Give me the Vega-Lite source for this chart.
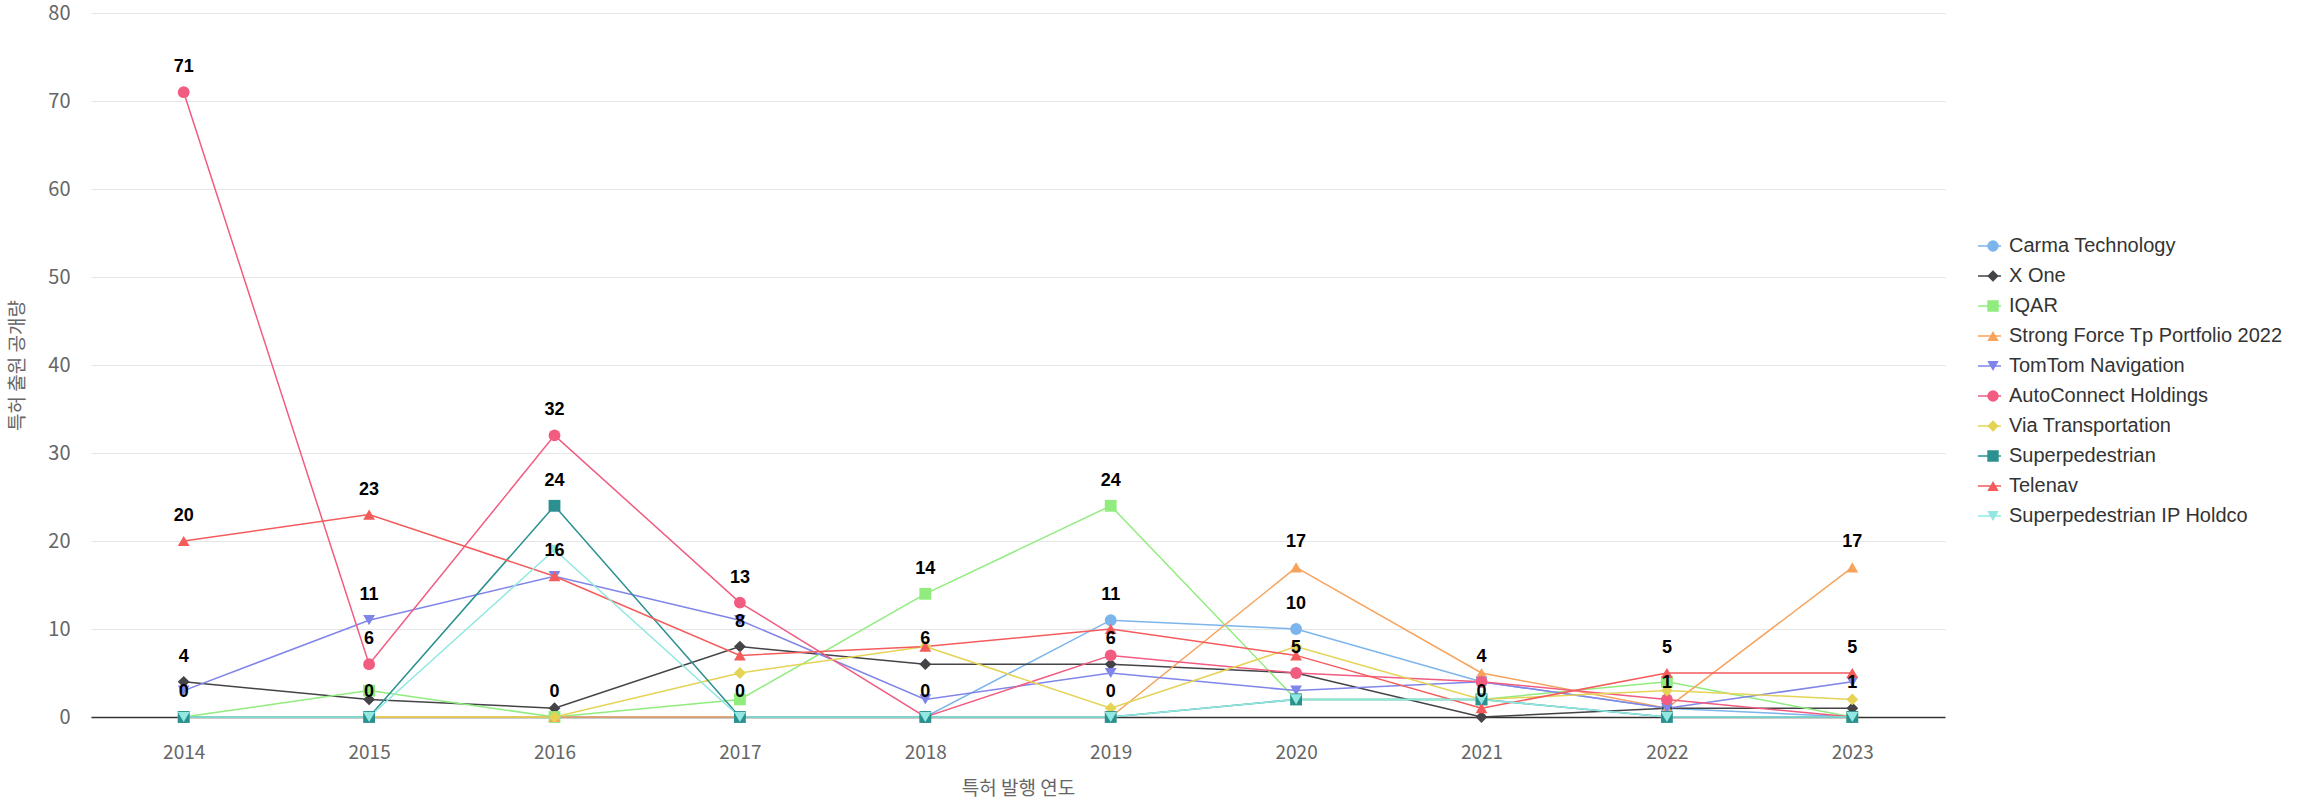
{
  "$schema": "https://vega.github.io/schema/vega-lite/v6.json",
  "autosize": {"type": "none"},
  "padding": {"left": 91, "top": 13, "right": 353, "bottom": 88},
  "width": 1854,
  "height": 704,
  "background": "#ffffff",
  "config": {"view": {"stroke": null}},
  "datasets": {
    "series": [
      {"company": "Carma Technology", "year": "2014", "value": 0},
      {"company": "Carma Technology", "year": "2015", "value": 0},
      {"company": "Carma Technology", "year": "2016", "value": 0},
      {"company": "Carma Technology", "year": "2017", "value": 0},
      {"company": "Carma Technology", "year": "2018", "value": 0},
      {"company": "Carma Technology", "year": "2019", "value": 11},
      {"company": "Carma Technology", "year": "2020", "value": 10},
      {"company": "Carma Technology", "year": "2021", "value": 4},
      {"company": "Carma Technology", "year": "2022", "value": 1},
      {"company": "Carma Technology", "year": "2023", "value": 0},
      {"company": "X One", "year": "2014", "value": 4},
      {"company": "X One", "year": "2015", "value": 2},
      {"company": "X One", "year": "2016", "value": 1},
      {"company": "X One", "year": "2017", "value": 8},
      {"company": "X One", "year": "2018", "value": 6},
      {"company": "X One", "year": "2019", "value": 6},
      {"company": "X One", "year": "2020", "value": 5},
      {"company": "X One", "year": "2021", "value": 0},
      {"company": "X One", "year": "2022", "value": 1},
      {"company": "X One", "year": "2023", "value": 1},
      {"company": "IQAR", "year": "2014", "value": 0},
      {"company": "IQAR", "year": "2015", "value": 3},
      {"company": "IQAR", "year": "2016", "value": 0},
      {"company": "IQAR", "year": "2017", "value": 2},
      {"company": "IQAR", "year": "2018", "value": 14},
      {"company": "IQAR", "year": "2019", "value": 24},
      {"company": "IQAR", "year": "2020", "value": 2},
      {"company": "IQAR", "year": "2021", "value": 2},
      {"company": "IQAR", "year": "2022", "value": 4},
      {"company": "IQAR", "year": "2023", "value": 0},
      {"company": "Strong Force Tp Portfolio 2022", "year": "2014", "value": 0},
      {"company": "Strong Force Tp Portfolio 2022", "year": "2015", "value": 0},
      {"company": "Strong Force Tp Portfolio 2022", "year": "2016", "value": 0},
      {"company": "Strong Force Tp Portfolio 2022", "year": "2017", "value": 0},
      {"company": "Strong Force Tp Portfolio 2022", "year": "2018", "value": 0},
      {"company": "Strong Force Tp Portfolio 2022", "year": "2019", "value": 0},
      {"company": "Strong Force Tp Portfolio 2022", "year": "2020", "value": 17},
      {"company": "Strong Force Tp Portfolio 2022", "year": "2021", "value": 5},
      {"company": "Strong Force Tp Portfolio 2022", "year": "2022", "value": 1},
      {"company": "Strong Force Tp Portfolio 2022", "year": "2023", "value": 17},
      {"company": "TomTom Navigation", "year": "2014", "value": 3},
      {"company": "TomTom Navigation", "year": "2015", "value": 11},
      {"company": "TomTom Navigation", "year": "2016", "value": 16},
      {"company": "TomTom Navigation", "year": "2017", "value": 11},
      {"company": "TomTom Navigation", "year": "2018", "value": 2},
      {"company": "TomTom Navigation", "year": "2019", "value": 5},
      {"company": "TomTom Navigation", "year": "2020", "value": 3},
      {"company": "TomTom Navigation", "year": "2021", "value": 4},
      {"company": "TomTom Navigation", "year": "2022", "value": 1},
      {"company": "TomTom Navigation", "year": "2023", "value": 4},
      {"company": "AutoConnect Holdings", "year": "2014", "value": 71},
      {"company": "AutoConnect Holdings", "year": "2015", "value": 6},
      {"company": "AutoConnect Holdings", "year": "2016", "value": 32},
      {"company": "AutoConnect Holdings", "year": "2017", "value": 13},
      {"company": "AutoConnect Holdings", "year": "2018", "value": 0},
      {"company": "AutoConnect Holdings", "year": "2019", "value": 7},
      {"company": "AutoConnect Holdings", "year": "2020", "value": 5},
      {"company": "AutoConnect Holdings", "year": "2021", "value": 4},
      {"company": "AutoConnect Holdings", "year": "2022", "value": 2},
      {"company": "AutoConnect Holdings", "year": "2023", "value": 0},
      {"company": "Via Transportation", "year": "2014", "value": 0},
      {"company": "Via Transportation", "year": "2015", "value": 0},
      {"company": "Via Transportation", "year": "2016", "value": 0},
      {"company": "Via Transportation", "year": "2017", "value": 5},
      {"company": "Via Transportation", "year": "2018", "value": 8},
      {"company": "Via Transportation", "year": "2019", "value": 1},
      {"company": "Via Transportation", "year": "2020", "value": 8},
      {"company": "Via Transportation", "year": "2021", "value": 2},
      {"company": "Via Transportation", "year": "2022", "value": 3},
      {"company": "Via Transportation", "year": "2023", "value": 2},
      {"company": "Superpedestrian", "year": "2014", "value": 0},
      {"company": "Superpedestrian", "year": "2015", "value": 0},
      {"company": "Superpedestrian", "year": "2016", "value": 24},
      {"company": "Superpedestrian", "year": "2017", "value": 0},
      {"company": "Superpedestrian", "year": "2018", "value": 0},
      {"company": "Superpedestrian", "year": "2019", "value": 0},
      {"company": "Superpedestrian", "year": "2020", "value": 2},
      {"company": "Superpedestrian", "year": "2021", "value": 2},
      {"company": "Superpedestrian", "year": "2022", "value": 0},
      {"company": "Superpedestrian", "year": "2023", "value": 0},
      {"company": "Telenav", "year": "2014", "value": 20},
      {"company": "Telenav", "year": "2015", "value": 23},
      {"company": "Telenav", "year": "2016", "value": 16},
      {"company": "Telenav", "year": "2017", "value": 7},
      {"company": "Telenav", "year": "2018", "value": 8},
      {"company": "Telenav", "year": "2019", "value": 10},
      {"company": "Telenav", "year": "2020", "value": 7},
      {"company": "Telenav", "year": "2021", "value": 1},
      {"company": "Telenav", "year": "2022", "value": 5},
      {"company": "Telenav", "year": "2023", "value": 5},
      {"company": "Superpedestrian IP Holdco", "year": "2014", "value": 0},
      {"company": "Superpedestrian IP Holdco", "year": "2015", "value": 0},
      {"company": "Superpedestrian IP Holdco", "year": "2016", "value": 19},
      {"company": "Superpedestrian IP Holdco", "year": "2017", "value": 0},
      {"company": "Superpedestrian IP Holdco", "year": "2018", "value": 0},
      {"company": "Superpedestrian IP Holdco", "year": "2019", "value": 0},
      {"company": "Superpedestrian IP Holdco", "year": "2020", "value": 2},
      {"company": "Superpedestrian IP Holdco", "year": "2021", "value": 2},
      {"company": "Superpedestrian IP Holdco", "year": "2022", "value": 0},
      {"company": "Superpedestrian IP Holdco", "year": "2023", "value": 0}
    ],
    "labels": [
      {"year": "2014", "value": 71}, {"year": "2014", "value": 20}, {"year": "2014", "value": 4}, {"year": "2014", "value": 0},
      {"year": "2015", "value": 23}, {"year": "2015", "value": 11}, {"year": "2015", "value": 6}, {"year": "2015", "value": 0},
      {"year": "2016", "value": 32}, {"year": "2016", "value": 24}, {"year": "2016", "value": 16}, {"year": "2016", "value": 0},
      {"year": "2017", "value": 13}, {"year": "2017", "value": 8}, {"year": "2017", "value": 0},
      {"year": "2018", "value": 14}, {"year": "2018", "value": 6}, {"year": "2018", "value": 0},
      {"year": "2019", "value": 24}, {"year": "2019", "value": 11}, {"year": "2019", "value": 6}, {"year": "2019", "value": 0},
      {"year": "2020", "value": 17}, {"year": "2020", "value": 10}, {"year": "2020", "value": 5},
      {"year": "2021", "value": 4}, {"year": "2021", "value": 0},
      {"year": "2022", "value": 5}, {"year": "2022", "value": 1},
      {"year": "2023", "value": 17}, {"year": "2023", "value": 5}, {"year": "2023", "value": 1}
    ]
  },
  "encoding": {
    "x": {
      "field": "year", "type": "ordinal",
      "scale": {"type": "point", "padding": 0.5},
      "axis": {
        "title": "특허 발행 연도",
        "labelAngle": 0,
        "labelFont": "Noto Sans CJK KR", "labelFontSize": 19, "labelColor": "#666666",
        "labelBaseline": "middle", "labelPadding": 35,
        "ticks": false, "tickSize": 0,
        "domain": true, "domainColor": "#333333", "domainWidth": 1.5,
        "grid": false,
        "titleFont": "Noto Sans CJK KR", "titleFontSize": 19, "titleFontWeight": "normal", "titleColor": "#666666",
        "titleY": 71, "titleBaseline": "middle"
      }
    },
    "y": {
      "field": "value", "type": "quantitative",
      "scale": {"domain": [0, 80], "nice": false},
      "axis": {
        "title": "특허 출원 공개량",
        "values": [0, 10, 20, 30, 40, 50, 60, 70, 80],
        "labelFont": "Noto Sans CJK KR", "labelFontSize": 20, "labelColor": "#666666",
        "labelPadding": 21, "ticks": false, "tickSize": 0, "domain": false,
        "grid": true, "gridColor": "#e6e6e6", "gridWidth": 1,
        "titleFont": "Noto Sans CJK KR", "titleFontSize": 19, "titleFontWeight": "normal", "titleColor": "#666666",
        "titleX": -74, "titleY": 352, "titleAngle": -90, "titleAlign": "center", "titleBaseline": "middle"
      }
    }
  },
  "layer": [
    {
      "data": {"name": "series"},
      "mark": {"type": "line", "strokeWidth": 1.5},
      "encoding": {
        "stroke": {
          "field": "company", "type": "nominal",
          "scale": {
            "domain": ["Carma Technology", "X One", "IQAR", "Strong Force Tp Portfolio 2022", "TomTom Navigation", "AutoConnect Holdings", "Via Transportation", "Superpedestrian", "Telenav", "Superpedestrian IP Holdco"],
            "range": ["#7cb5ec", "#434348", "#90ed7d", "#f7a35c", "#8085e9", "#f15c80", "#e4d354", "#2b908f", "#f45b5b", "#91e8e1"]
          },
          "legend": {
            "orient": "none", "legendX": 1886, "legendY": 218,
            "title": null, "symbolType": "stroke", "symbolSize": 529, "symbolStrokeWidth": 1.5,
            "clipHeight": 30, "rowPadding": 0, "padding": 0,
            "labelOpacity": 0, "labelFontSize": 20, "labelFont": "Liberation Sans", "labelLimit": 400
          }
        }
      }
    },
    {
      "data": {"name": "series"},
      "mark": {"type": "point", "filled": true, "size": 140, "opacity": 1},
      "encoding": {
        "color": {
          "field": "company", "type": "nominal", "sort": null,
          "scale": {"range": ["#7cb5ec", "#434348", "#90ed7d", "#f7a35c", "#8085e9", "#f15c80", "#e4d354", "#2b908f", "#f45b5b", "#91e8e1"]},
          "legend": {
            "orient": "none", "legendX": 1892, "legendY": 218,
            "title": null, "symbolSize": 130, "symbolStrokeWidth": 0, "symbolOpacity": 1,
            "clipHeight": 30, "rowPadding": 0, "padding": 0, "labelOffset": 6,
            "labelFont": "Liberation Sans", "labelFontSize": 20, "labelColor": "#333333", "labelLimit": 400
          }
        },
        "shape": {
          "field": "company", "type": "nominal", "sort": null,
          "scale": {"range": ["circle", "diamond", "square", "triangle-up", "triangle-down", "circle", "diamond", "square", "triangle-up", "triangle-down"]},
          "legend": {
            "orient": "none", "legendX": 1892, "legendY": 218,
            "title": null, "symbolSize": 130, "symbolStrokeWidth": 0, "symbolOpacity": 1,
            "clipHeight": 30, "rowPadding": 0, "padding": 0, "labelOffset": 6,
            "labelFont": "Liberation Sans", "labelFontSize": 20, "labelColor": "#333333", "labelLimit": 400
          }
        }
      }
    },
    {
      "data": {"name": "labels"},
      "mark": {"type": "text", "font": "Liberation Sans", "fontSize": 18, "fontWeight": "bold", "color": "#000000", "baseline": "middle", "dy": -25},
      "encoding": {
        "text": {"field": "value", "type": "quantitative"}
      }
    }
  ]
}
